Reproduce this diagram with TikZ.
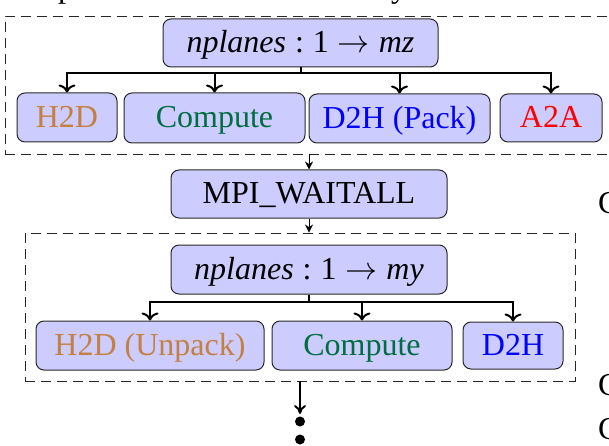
\documentclass[tikz,border=0pt]{standalone}
\usepackage{fix-cm}
\usepackage{fontspec}
\setmainfont{Liberation Serif}
\usetikzlibrary{arrows.meta}

\definecolor{boxfill}{RGB}{204,204,255}
\definecolor{boxedge}{RGB}{40,40,40}
\definecolor{hostcol}{RGB}{196,128,64}
\definecolor{compcol}{RGB}{0,110,64}

\newcommand{\loopover}[1]{\textit{nplanes}\hspace{0.28em}:\hspace{0.28em}1\hspace{0.28em}$\rightarrow$\hspace{0.28em}\textit{#1}}

\begin{document}
\begin{tikzpicture}[x=1pt, y=-1pt,
  stage/.style={draw=boxedge, line width=1pt, fill=boxfill, rounded corners=8pt,
    inner sep=0pt, font=\fontsize{32}{38}\selectfont,
    text height=26.5pt, text depth=7pt},
  groupbox/.style={draw=black!85, line width=0.9pt, dash pattern=on 10pt off 6pt,
    inner sep=0pt},
  branch/.style={line width=2pt, -{To[length=8pt,width=17pt]}},
  link/.style={line width=1pt, -{Stealth[length=8pt,width=8pt,inset=2.5pt]}},
  onward/.style={line width=2pt, -{To[length=9pt,width=12pt]}},
  outside/.style={inner sep=0pt, anchor=base west, font=\fontsize{32}{38}\selectfont},
]
\useasboundingbox (0,0) rectangle (609,446);

% surrounding text, cut by the page edge
\node[outside] (capp) at (58,-2.5) {p};
\node[outside] (capy) at (391,-2.5) {y};
\node[outside] (sideA) at (598,213) {C};
\node[outside] (sideB) at (598,395) {C};
\node[outside] (sideC) at (598,439) {C};

% dashed groups
\node[groupbox, minimum width=608pt, minimum height=138pt] (g1) at (309,85) {};
\node[groupbox, minimum width=550pt, minimum height=148pt] (g2) at (300,307) {};

% first loop
\node[stage, minimum width=275pt, minimum height=48pt] (nz) at (300.5,43) {\loopover{mz}};
\node[stage, minimum width=100pt, minimum height=49pt, text=hostcol] (h2dA) at (67,117.5) {H2D};
\node[stage, minimum width=181pt, minimum height=50pt, text=compcol] (compA) at (214.5,118) {Compute};
\node[stage, minimum width=181pt, minimum height=49pt, text=blue] (d2hA) at (399.5,118.5) {D2H (Pack)};
\node[stage, minimum width=102pt, minimum height=48pt, text=red] (a2a) at (551,118) {A2A};

% synchronisation
\node[stage, minimum width=276pt, minimum height=48pt] (wait) at (309,194) {MPI\_WAITALL};

% second loop
\node[stage, minimum width=276pt, minimum height=49pt] (ny) at (309,269.5) {\loopover{my}};
\node[stage, minimum width=228pt, minimum height=49pt, text=hostcol] (h2dB) at (150,345.5) {H2D (Unpack)};
\node[stage, minimum width=180pt, minimum height=49pt, text=compcol] (compB) at (362,345.5) {Compute};
\node[stage, minimum width=100pt, minimum height=47pt, text=blue] (d2hB) at (513,345.5) {D2H};

% tree connectors
\foreach \c in {h2dA,compA,d2hA,a2a}
  \draw[branch] (nz.south) -- ++(0,6) -| (\c.north);
\foreach \c in {h2dB,compB,d2hB}
  \draw[branch] (ny.south) -- ++(0,7) -| (\c.north);

% flow between stages
\draw[link] (g1.south) -- (wait.north);
\draw[link] (wait.south) -- (wait.south |- g2.north);

\coordinate (more) at (300,414);
\draw[onward] (g2.south) -- (more);
\fill (300,421.5) circle (5pt);
\fill (300,439.5) circle (5pt);
\end{tikzpicture}
\end{document}
